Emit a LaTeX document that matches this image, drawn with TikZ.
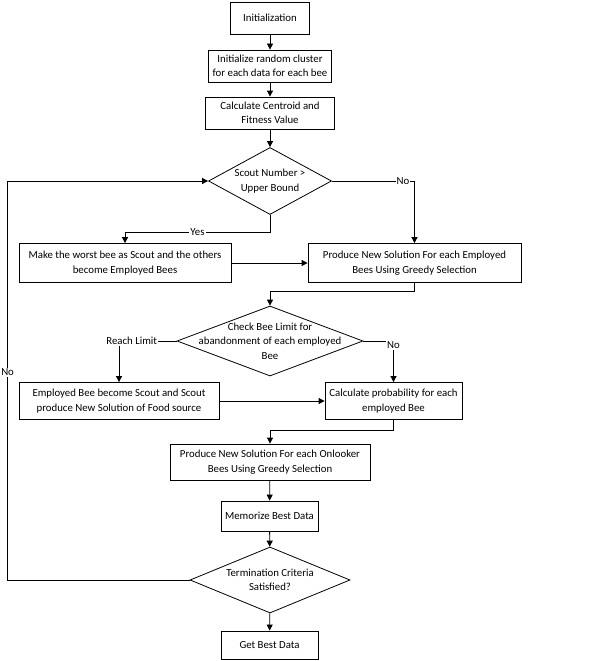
\documentclass[tikz,border=0pt]{standalone}
\usepackage{fontspec}
\setmainfont{Carlito}
\usetikzlibrary{shapes.geometric,arrows.meta}
\begin{document}
\begin{tikzpicture}[x=1pt,y=-1pt,>={Triangle[length=6pt,width=6pt]},
  font=\fontsize{10.8}{14.5}\selectfont, line width=0.8pt,
  stepbox/.style={draw, rectangle, align=center, inner sep=2pt},
  decide/.style={draw, diamond, inner sep=0pt, label={[align=center]center:#1}},
  lbl/.style={fill=white, inner sep=1pt}]
  \useasboundingbox (0,0) rectangle (607,661);
  \node[stepbox, minimum width=79, minimum height=32] (init) at (270,18) {Initialization};
  \node[stepbox, minimum width=123, minimum height=32] (randclu) at (270,66) {Initialize random cluster\\for each data for each bee};
  \node[stepbox, minimum width=129, minimum height=32] (centroid) at (270,113) {Calculate Centroid and\\Fitness Value};
  \node[decide={Scout Number >\\Upper Bound}, minimum width=123, minimum height=67] (scoutnum) at (270,181) {};
  \node[stepbox, minimum width=212, minimum height=39] (worstbee) at (125,263) {Make the worst bee as Scout and the others\\become Employed Bees};
  \node[stepbox, minimum width=213, minimum height=39] (newemp) at (414.5,263) {Produce New Solution For each Employed\\Bees Using Greedy Selection};
  \node[decide={Check Bee Limit for\\abandonment of each employed\\Bee}, minimum width=186, minimum height=70] (beelimit) at (270,341) {};
  \node[stepbox, minimum width=200, minimum height=37] (empscout) at (119,401) {Employed Bee become Scout and Scout\\produce New Solution of Food source};
  \node[stepbox, minimum width=137, minimum height=37] (prob) at (393.5,401) {Calculate probability for each\\employed Bee};
  \node[stepbox, minimum width=200, minimum height=36] (newonl) at (270,462) {Produce New Solution For each Onlooker\\Bees Using Greedy Selection};
  \node[stepbox, minimum width=97, minimum height=30] (memo) at (269.5,516) {Memorize Best Data};
  \node[decide={Termination Criteria\\Satisfied?}, minimum width=160, minimum height=66] (term) at (270,580) {};
  \node[stepbox, minimum width=97, minimum height=28] (best) at (269.5,645) {Get Best Data};
  % connectors
  \draw[->] (init) -- (randclu);
  \draw[->] (randclu) -- (centroid);
  \draw[->] (centroid) -- (scoutnum);
  \draw[->] (scoutnum.east) -- node[lbl, pos=0.86]{No} (scoutnum.east -| newemp.north) -- (newemp.north);
  \draw[->] (scoutnum.south) -- ++(0,17) -| node[lbl, pos=0.25]{Yes} (worstbee.north);
  \draw[->] (worstbee) -- (newemp);
  \draw[->] (newemp.south) -- ++(0,8) -| (beelimit.north);
  \draw[->] (beelimit.west) -- node[lbl, pos=0.78]{Reach Limit} (beelimit.west -| empscout.north) -- (empscout.north);
  \draw[->] (beelimit.east) -- (beelimit.east -| prob.north) node[lbl, yshift=-4pt]{No} -- (prob.north);
  \draw[->] (empscout) -- (prob);
  \draw[->] (prob.south) -- ++(0,10) -| (newonl.north);
  \draw[->] (newonl) -- (memo);
  \draw[->] (memo) -- (term);
  \draw[->] (term) -- (best);
  \draw[->] (term.west) -- ++(-182,0) |- node[lbl, pos=0.26]{No} (scoutnum.west);
\end{tikzpicture}
\end{document}
